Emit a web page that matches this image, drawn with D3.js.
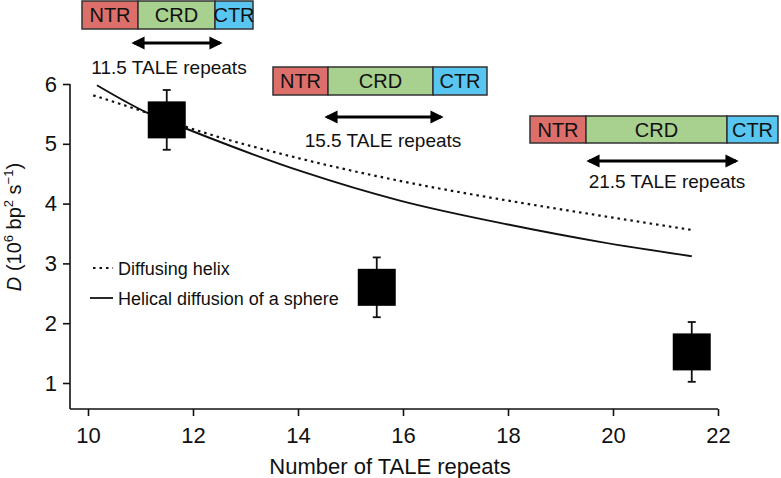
<!DOCTYPE html>
<html>
<head>
<meta charset="utf-8">
<script src="https://cdn.jsdelivr.net/npm/d3@7"></script>
<style>
  html, body { margin: 0; padding: 0; background: #fff; }
  svg { display: block; font-family: "Liberation Sans", Arial, Helvetica, sans-serif; }
</style>
</head>
<body>
<svg id="chart" width="781" height="478"></svg>
<script>
// ---- Data ----
const xTicks = [10, 12, 14, 16, 18, 20, 22];
const yTicks = [1, 2, 3, 4, 5, 6];

// Model curve: diffusing helix (dotted)
const helixN = [10.1, 11.12, 11.85, 14.1, 15.94, 18.0, 19.75, 21.5];
const helixD = [5.81, 5.52, 5.29, 4.74, 4.38, 4.05, 3.80, 3.56];

// Model curve: helical diffusion of a sphere (solid)
const sphereN = [10.17, 11.15, 11.85, 14.1, 15.94, 18.0, 19.75, 21.5];
const sphereD = [5.98, 5.51, 5.26, 4.53, 4.05, 3.65, 3.36, 3.12];

// Measured points
const repeats = [11.5, 15.5, 21.5];
const measuredD = [5.4, 2.6, 1.52];
const errD = [0.5, 0.5, 0.5];

const legendLabels = ["Diffusing helix", "Helical diffusion of a sphere"];
const domainLabels = ["NTR", "CRD", "CTR"];
const domainColors = ["#dd6f6b", "#a8d08e", "#58c6f0"];

// ---- Layout ----
const svg = d3.select("#chart");
const x = d3.scaleLinear().domain([10, 22]).range([88, 718]);
const y = d3.scaleLinear().domain([1, 6]).range([383, 84]);
const axisY = 409, axisX = 70;

// annotation boxes (pixel layout): [left, b1, b2, right, top, bottom, arrowL, arrowR, arrowY, textX, textY]
const boxLayout = [
  [82, 138, 215, 253, 1, 29, 132, 222, 43, 169, 74],
  [273, 328, 433, 487, 67, 95, 325, 443, 117, 383, 147],
  [530, 586, 727, 778, 116, 143, 587, 738, 161, 667, 188]
];

// ---- Axes ----
const gx = svg.append("g").attr("transform", `translate(0,${axisY})`)
  .call(d3.axisBottom(x).tickValues(xTicks).tickSize(7).tickPadding(11).tickFormat(d3.format("d")));
gx.select(".domain").remove();
gx.selectAll("line").attr("stroke", "#111").attr("stroke-width", 1.6);
gx.selectAll("text").attr("font-size", 22).attr("fill", "#111").attr("font-family", "Liberation Sans, Arial, sans-serif");
svg.append("line").attr("x1", axisX).attr("x2", x(22)).attr("y1", axisY).attr("y2", axisY)
  .attr("stroke", "#111").attr("stroke-width", 1.6);

const gy = svg.append("g").attr("transform", `translate(${axisX},0)`)
  .call(d3.axisLeft(y).tickValues(yTicks).tickSize(7).tickPadding(6).tickFormat(d3.format("d")));
gy.select(".domain").remove();
gy.selectAll("line").attr("stroke", "#111").attr("stroke-width", 1.6);
gy.selectAll("text").attr("font-size", 22).attr("fill", "#111").attr("font-family", "Liberation Sans, Arial, sans-serif");
svg.append("line").attr("x1", axisX).attr("x2", axisX).attr("y1", y(6)).attr("y2", axisY)
  .attr("stroke", "#111").attr("stroke-width", 1.6);

// axis titles
svg.append("text").attr("x", 390).attr("y", 474).attr("text-anchor", "middle")
  .attr("font-size", 22).attr("fill", "#111").text("Number of TALE repeats");

const yt = svg.append("text").attr("transform", "translate(21,227) rotate(-90)")
  .attr("text-anchor", "middle").attr("font-size", 20).attr("fill", "#111");
yt.append("tspan").attr("font-style", "italic").text("D");
yt.append("tspan").text(" (10");
yt.append("tspan").attr("font-size", 13).attr("dy", -8).text("6");
yt.append("tspan").attr("dy", 8).text(" bp");
yt.append("tspan").attr("font-size", 13).attr("dy", -8).text("2");
yt.append("tspan").attr("dy", 8).text(" s");
yt.append("tspan").attr("font-size", 13).attr("dy", -8).text("\u22121");
yt.append("tspan").attr("dy", 8).text(")");

// ---- Curves ----
const line = d3.line().x(d => x(d[0])).y(d => y(d[1])).curve(d3.curveMonotoneX);
svg.append("path").datum(helixN.map((n, i) => [n, helixD[i]]))
  .attr("d", line).attr("fill", "none").attr("stroke", "#111").attr("stroke-width", 2.2)
  .attr("stroke-dasharray", "2.5,4");
svg.append("path").datum(sphereN.map((n, i) => [n, sphereD[i]]))
  .attr("d", line).attr("fill", "none").attr("stroke", "#111").attr("stroke-width", 1.9);

// ---- Measured points with error bars ----
const pts = repeats.map((n, i) => ({ n, d: measuredD[i], e: errD[i] }));
const pg = svg.append("g").selectAll("g").data(pts).join("g");
pg.append("line").attr("x1", d => x(d.n)).attr("x2", d => x(d.n))
  .attr("y1", d => y(d.d + d.e)).attr("y2", d => y(d.d - d.e))
  .attr("stroke", "#111").attr("stroke-width", 1.8);
[1, -1].forEach(s => {
  pg.append("line").attr("x1", d => x(d.n) - 4).attr("x2", d => x(d.n) + 4)
    .attr("y1", d => y(d.d + s * d.e)).attr("y2", d => y(d.d + s * d.e))
    .attr("stroke", "#111").attr("stroke-width", 1.8);
});
pg.append("rect").attr("x", d => x(d.n) - 19).attr("y", d => y(d.d) - 18.5)
  .attr("width", 38).attr("height", 37).attr("fill", "#000");

// ---- Legend ----
const lg = svg.append("g");
lg.append("line").attr("x1", 93).attr("x2", 113).attr("y1", 268).attr("y2", 268)
  .attr("stroke", "#111").attr("stroke-width", 2).attr("stroke-dasharray", "2.5,4");
lg.append("line").attr("x1", 90).attr("x2", 113).attr("y1", 298).attr("y2", 298)
  .attr("stroke", "#111").attr("stroke-width", 1.8);
lg.append("text").attr("x", 118).attr("y", 275).attr("font-size", 18).attr("fill", "#111").text(legendLabels[0]);
lg.append("text").attr("x", 118).attr("y", 305).attr("font-size", 18).attr("fill", "#111").text(legendLabels[1]);

// ---- Protein domain diagrams ----
const defs = svg.append("defs");
defs.append("marker").attr("id", "ah").attr("viewBox", "0 0 10 10").attr("refX", 8).attr("refY", 5)
  .attr("markerWidth", 4.4).attr("markerHeight", 5.4).attr("markerUnits", "strokeWidth")
  .attr("orient", "auto-start-reverse")
  .append("path").attr("d", "M0,0 L10,5 L0,10 Z").attr("fill", "#000");

boxLayout.forEach((b, i) => {
  const g = svg.append("g");
  const [l, b1, b2, r, t, bt, al, ar, ay, tx, ty] = b;
  const segs = [[l, b1], [b1, b2], [b2, r]];
  segs.forEach((s, j) => {
    g.append("rect").attr("x", s[0]).attr("y", t).attr("width", s[1] - s[0]).attr("height", bt - t)
      .attr("fill", domainColors[j]).attr("stroke", "#333").attr("stroke-width", 1.5);
    g.append("text").attr("x", (s[0] + s[1]) / 2).attr("y", (t + bt) / 2 + 7)
      .attr("text-anchor", "middle").attr("font-size", 20).attr("fill", "#111").text(domainLabels[j]);
  });
  g.append("line").attr("x1", al + 2).attr("x2", ar - 2).attr("y1", ay).attr("y2", ay)
    .attr("stroke", "#000").attr("stroke-width", 3)
    .attr("marker-start", "url(#ah)").attr("marker-end", "url(#ah)");
  g.append("text").attr("x", tx).attr("y", ty).attr("text-anchor", "middle")
    .attr("font-size", 19).attr("fill", "#111").text(d3.format(".1f")(repeats[i]) + " TALE repeats");
});
</script>
</body>
</html>
